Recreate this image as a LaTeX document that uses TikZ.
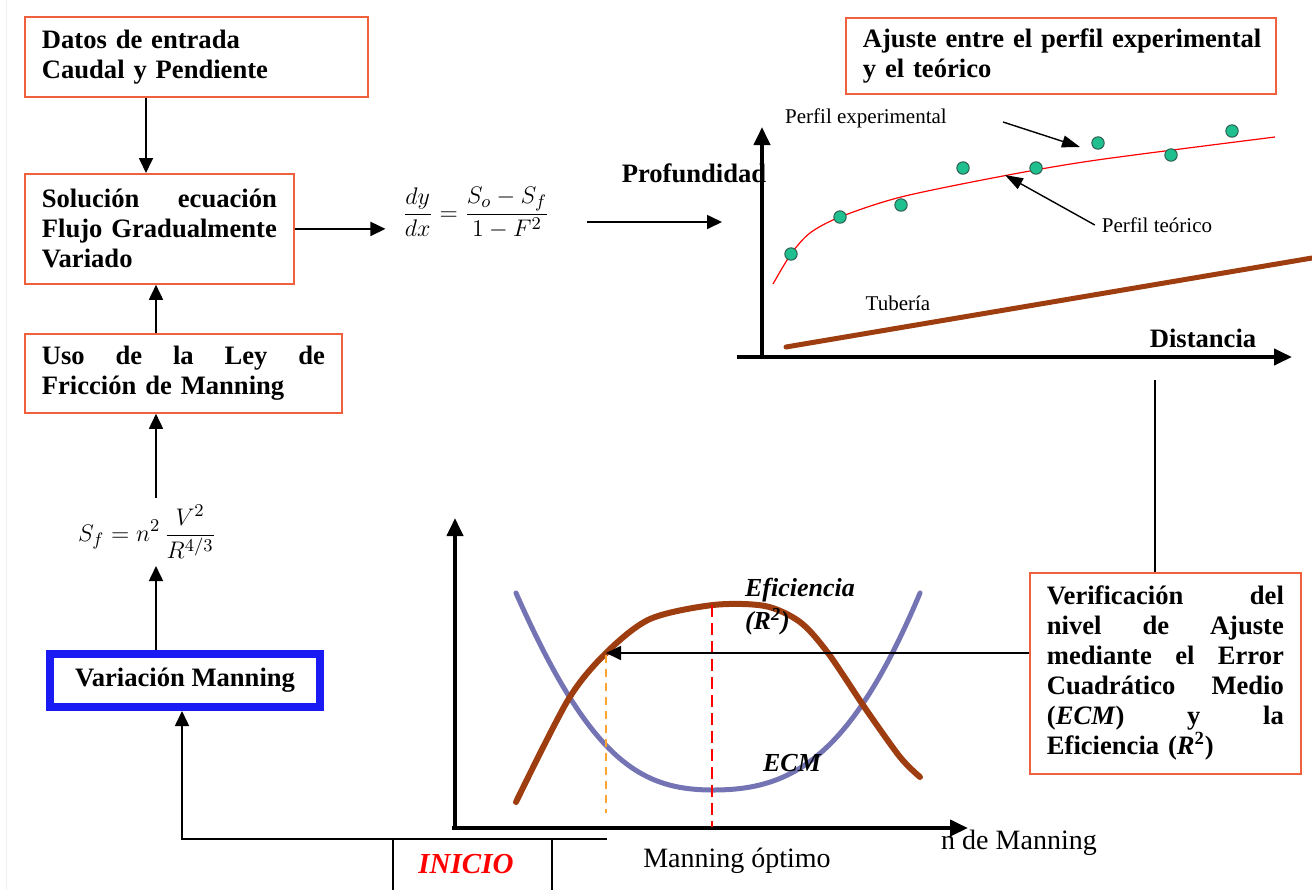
\documentclass[tikz,border=0pt]{standalone}
\usepackage{fontspec}
\setmainfont{Liberation Serif}
\usepackage{tikz}
\usetikzlibrary{arrows.meta,calc}
\definecolor{FMRed}{HTML}{F0603C}
\definecolor{FMBlue}{HTML}{1A1AF5}
\definecolor{FMBrown}{HTML}{9E3E10}
\definecolor{FMLilac}{HTML}{7474B4}
\definecolor{FMGreen}{HTML}{1FBF8F}
\definecolor{FMDot}{HTML}{2E5E50}
\definecolor{FMOrange}{HTML}{FFA630}
\newcommand\boxfont{\fontsize{13.3}{15}\selectfont\bfseries}
\tikzset{
  fmbox/.style={draw=FMRed, line width=0.9pt, anchor=north west, align=left,
    inner xsep=8.5pt, inner ysep=0pt, font=\boxfont},
  fmarrow/.style={line width=0.85pt, -{Triangle[length=7.5pt,width=7pt]}},
  fmline/.style={line width=0.75pt},
  fmaxis/.style={line width=2pt, -{Triangle[length=9pt,width=8pt]}},
  fmsmall/.style={font=\fontsize{10.5}{12}\selectfont},
  fmlabel/.style={font=\fontsize{14}{16}\selectfont},
  fmcurve/.style={line width=#1, line cap=round},
}
\begin{document}
\begin{tikzpicture}[x=0.5pt,y=-0.5pt]
\useasboundingbox (0,0) rectangle (1312,890);
\draw[gray!12] (6,0) -- (6,890);
% left column
\node[fmbox, text width=154.5pt, minimum height=40pt] (datos) at (24,16)
  {Datos de entrada\\Caudal y Pendiente};
\node[fmbox, text width=117.5pt, minimum height=55pt] (solucion) at (24,173)
  {Solución\hfill ecuación\\Flujo\hfill Gradualmente\\Variado};
\node[fmbox, text width=141.5pt, minimum height=39.5pt] (ley) at (24,333)
  {Uso\hfill de\hfill la\hfill Ley\hfill de\\Fricción de Manning};
\node[font=\fontsize{13}{15}\selectfont] (sf) at (147,532)
  {$\displaystyle S_f=n^2\,\frac{V^2}{R^{4/3}}$};
\node[draw=FMBlue, line width=4pt, minimum width=135pt, minimum height=26.5pt,
  font=\boxfont] (variacion) at (185,680.5) {Variación Manning};
\node[font=\fontsize{13}{15}\selectfont] (fgv) at (476,213)
  {$\displaystyle\frac{dy}{dx}=\frac{S_o-S_f}{1-F^2}$};
\coordinate (c1) at (146,0);
\coordinate (c2) at (156,0);
\draw[fmarrow] (c1 |- datos.south) -- (c1 |- solucion.north);
\draw[fmarrow] (c2 |- ley.north) -- (c2 |- solucion.south);
\draw[fmarrow] (c2 |- sf.north) -- (c2 |- ley.south);
\draw[fmarrow] (c2 |- variacion.north) -- (c2 |- sf.south);
\draw[fmarrow, shorten >=5pt] (solucion.east) -- (solucion.east -| fgv.west);
\coordinate (fgvout) at (587,222);
\coordinate (prof) at (722,222);
\draw[fmarrow] (fgvout) -- (prof);

% profile chart
\node[fmbox, text width=198pt, minimum height=38pt] (ajuste) at (845,17)
  {\mbox{Ajuste entre el perfil experimental}\\y el teórico};
\node[font=\boxfont] (profundidad) at (694,173) {Profundidad};
\node[font=\boxfont] (distancia) at (1203,338) {Distancia};
\draw[fmaxis] (737,357) -- (1292,357);
\draw[fmaxis] (762,358) -- (762,127);
\draw[FMBrown, fmcurve=2.5pt] (786,347) -- (1312,258);
\node[fmsmall] (tuberia) at (898,303) {Tubería};
\draw[red, line width=0.6pt] plot[smooth] coordinates {(773,284) (791,254) (810,233)
  (840,217) (901,197) (1003,176) (1097,160) (1275,137)};
\foreach \x/\y in {791/254, 840/217, 901/205, 963/168, 1036/168, 1098/143, 1171/155, 1232/131}
  \filldraw[fill=FMGreen, draw=FMDot, line width=0.5pt] (\x,\y) circle (3.1pt);
\node[fmsmall] (pexp) at (866,118) {Perfil experimental};
\node[fmsmall] (pteo) at (1157,225) {Perfil teórico};
\draw[line width=0.7pt, -{Triangle[length=9pt,width=6pt]}] (1003,122) -- (1080,147);
\draw[line width=0.7pt, -{Triangle[length=9pt,width=6pt]}] (pteo.west) -- (1005,175);
\coordinate (fitend) at (1155,380);

% verification
\node[fmbox, text width=118.5pt, minimum height=100.5pt] (verif) at (1029,572)
  {Verificación\hfill del\\nivel\hfill de\hfill Ajuste\\mediante\hfill el\hfill Error\\
   Cuadrático\hfill Medio\\(\textit{ECM})\hfill y\hfill la\\Eficiencia (\textit{R}\textsuperscript{2})};
\draw[fmline] (fitend) -- (fitend |- verif.north);

% efficiency chart
\draw[fmaxis] (452,828) -- (968,828);
\draw[fmaxis] (455,830) -- (455,518);
\draw[FMLilac, fmcurve=2.5pt] (516,593) .. controls (590,760) and (640,790) .. (713,790)
  .. controls (790,790) and (850,760) .. (920,593);
\draw[FMBrown, fmcurve=3pt] plot[smooth] coordinates {(516,802) (568,700) (606,653)
  (650,619) (713,605) (765,606) (800,622) (828,653) (865,708) (900,757) (920,777)};
\draw[red, dashed, line width=0.8pt, dash pattern=on 6pt off 3pt] (712,605) -- (712,827);
\draw[FMOrange, dashed, line width=0.8pt, dash pattern=on 4pt off 3pt] (606,655) -- (606,813);
\node[font=\fontsize{13}{15}\selectfont\bfseries\itshape, anchor=west] (efic) at (738,590) {Eficiencia};
\node[font=\fontsize{13}{15}\selectfont\bfseries\itshape, anchor=west] (r2) at (738,622) {(R\textsuperscript{2})};
\node[font=\fontsize{13}{15}\selectfont\bfseries\itshape] (ecm) at (792,763) {ECM};
\coordinate (opt) at (606,653);
\draw[fmarrow] (verif.west |- opt) -- (opt);
\node[fmlabel] (nmanning) at (1019,843) {n de Manning};
\node[fmlabel] (optimo) at (737,861) {Manning óptimo};

% start
\node[font=\fontsize{14.5}{16}\selectfont\bfseries\itshape, text=red] (inicio) at (466,864) {INICIO};
\coordinate (start) at (182,839);
\draw[fmarrow] (607,839) -- (start) -- (start |- variacion.south);
\draw[fmline] (393,839) -- (393,890) (552,839) -- (552,890);
\end{tikzpicture}
\end{document}
